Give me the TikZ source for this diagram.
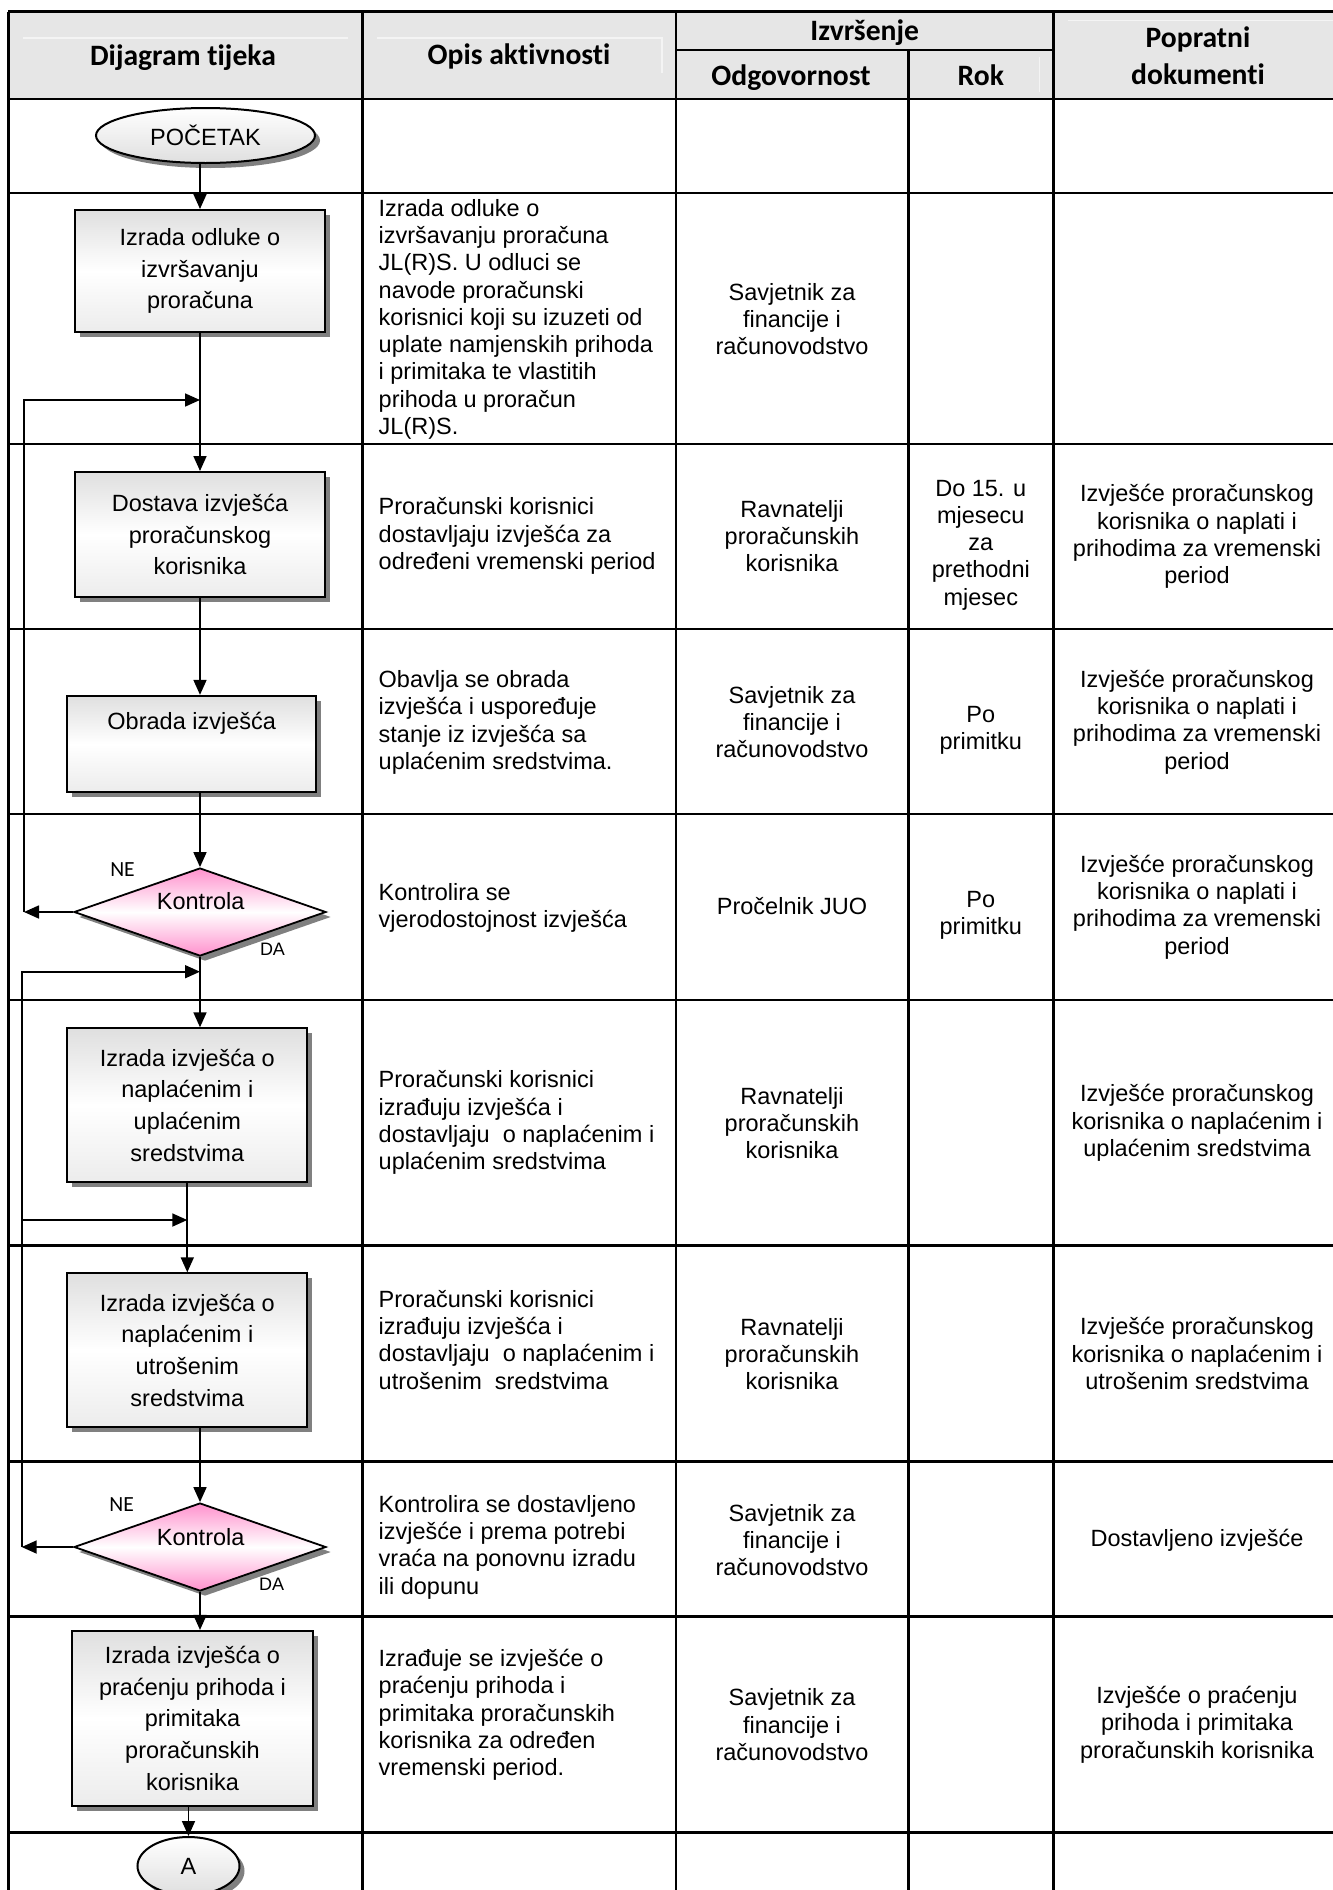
\documentclass[tikz,border=0pt]{standalone}
\usepackage{fontspec}
\setmainfont{Liberation Sans}
\newfontfamily\calfont[Ligatures={NoCommon}]{Carlito}
\usetikzlibrary{shapes.geometric,shadows,arrows.meta}
\definecolor{hdrgray}{RGB}{230,230,230}
\definecolor{hilite}{RGB}{244,244,244}
\definecolor{shadowc}{RGB}{128,128,128}
\definecolor{pinkc}{RGB}{255,145,205}
\newcommand\bodyfs{\fontsize{11.75pt}{13.65pt}\selectfont}
\newcommand\boxfs{\fontsize{11.75pt}{15.85pt}\selectfont}
\newcommand\hdrfs{\calfont\bfseries\fontsize{14.8pt}{18.35pt}\selectfont}
\newcommand\nefs{\calfont\fontsize{10.8pt}{12pt}\selectfont}
\newcommand\dafs{\fontsize{9pt}{10pt}\selectfont}
\begin{document}
\begin{tikzpicture}[x=0.5pt,y=-0.5pt,
 tline/.style={line width=1.3pt},
 conn/.style={line width=0.85pt},
 arr/.style={conn,-{Triangle[length=7.5pt,width=6.5pt]}},
 shad/.style={drop shadow={shadow xshift=2.5pt,shadow yshift=-2.5pt,fill=shadowc,opacity=1}},
 procbox/.style={rectangle,draw,line width=1pt,shad,top color=gray!25,bottom color=gray!15,middle color=white,font=\boxfs,align=center,inner sep=0pt},
 decision/.style={diamond,draw,line width=0.9pt,shad,top color=pinkc,bottom color=pinkc,middle color=white,aspect=2.86,inner sep=0pt,minimum width=126pt,minimum height=44pt},
 terminal/.style={ellipse,draw,line width=1pt,shad,top color=white,bottom color=gray!25,font=\bodyfs,inner sep=0pt},
 btext/.style={font=\boxfs,inner sep=0pt,align=center},
 hdr/.style={font=\hdrfs,inner sep=0pt,anchor=base},
 cell/.style={font=\bodyfs,inner sep=0pt,align=center},
 opis/.style={font=\bodyfs,inner sep=0pt,align=left,anchor=west},
 nelbl/.style={font=\nefs,inner sep=0pt},
 dalbl/.style={font=\dafs,inner sep=0pt},
 hl/.style={draw=hilite,line width=0.6pt},
]
\useasboundingbox (0,0) rectangle (1333,1890);

% header background
\fill[hdrgray] (8.3,11.7) rectangle (1340,99);
\draw[hl] (23,38) -- (348,38);
\draw[hl] (377,38) -- (662,38) -- (662,73);
\draw[hl] (1039.3,56.7) -- (1039.3,91.7);
\draw[hl] (1068,20.7) -- (1340,20.7);

% table lines
\foreach \yy in {11.7,99,193,444,629,814,1000,1245.7,1461.7,1616.7,1832.3}
  \draw[tline] (8.3,\yy) -- (1340,\yy);
\draw[tline] (676,50) -- (1053.3,50);
\foreach \xx in {8.3,362.7,676,1053.3}
  \draw[tline] (\xx,11.7) -- (\xx,1900);
\draw[tline] (908.3,50) -- (908.3,1900);

% header texts
\node[hdr] (h1) at (183,65) {Dijagram tijeka};
\node[hdr] (h2) at (519,64) {Opis aktivnosti};
\node[hdr] (h3) at (864.7,40.5) {Izvršenje};
\node[hdr] (h4) at (791,85) {Odgovornost};
\node[hdr] (h5) at (980.8,85) {Rok};
\node[hdr] (h6a) at (1198,47.5) {Popratni};
\node[hdr] (h6b) at (1198,84) {dokumenti};

% flow nodes
\node[terminal,minimum width=109.5pt,minimum height=27.5pt] (start) at (205.5,135.5) {POČETAK};
\node[procbox,minimum width=125pt,minimum height=61pt] (b1) at (200,271) {Izrada odluke o\\izvršavanju\\proračuna};
\node[procbox,minimum width=125pt,minimum height=62.5pt] (b2) at (200,534.5) {Dostava izvješća\\proračunskog\\korisnika};
\node[procbox,minimum width=124.35pt,minimum height=48.15pt] (b3) at (191.7,744) {};
\node[btext] (b3t) at (191.7,723) {Obrada izvješća};
\node[decision] (d1) at (200,912) {};
\node[btext] (d1t) at (200.7,901.5) {Kontrola};
\node[nelbl] (ne1) at (122.5,869.3) {NE};
\node[dalbl] (da1) at (272.5,949.2) {DA};
\node[procbox,minimum width=120pt,minimum height=76.7pt] (b4) at (187.3,1105) {Izrada izvješća o\\naplaćenim i\\uplaćenim\\sredstvima};
\node[procbox,minimum width=120pt,minimum height=76.7pt] (b5) at (187.3,1350) {Izrada izvješća o\\naplaćenim i\\utrošenim\\sredstvima};
\node[decision] (d2) at (200,1547) {};
\node[btext] (d2t) at (200.7,1537) {Kontrola};
\node[nelbl] (ne2) at (121.7,1504.2) {NE};
\node[dalbl] (da2) at (271.7,1584.5) {DA};
\node[procbox,minimum width=120.8pt,minimum height=87.35pt] (b6) at (192.5,1718.3) {Izrada izvješća o\\praćenju prihoda i\\primitaka\\proračunskih\\korisnika};
\node[terminal,minimum width=51pt,minimum height=29pt] (endA) at (188.5,1866) {A};

% loop coordinates
\coordinate (lp1top) at (24,400);
\coordinate (lp1) at (24,912);
\coordinate (lp2top) at (21.7,971.7);
\coordinate (lp2mid) at (21.7,1220);
\coordinate (lp2) at (21.7,1547);

% connectors
\draw[arr] (start.south -| b1.north) -- (b1.north);
\draw[arr] (b1.south) -- (b2.north);
\draw[arr] (b2.south) -- (b2.south |- b3.north);
\draw[arr] (b3.south -| d1.north) -- (d1.north);
\draw[arr] (d1.south) -- (d1.south |- b4.north);
\draw[arr] (b4.south) -- (b5.north);
\draw[arr] (b5.south -| d2.north) -- (d2.north);
\draw[arr] (d2.south) -- (d2.south |- b6.north);
\draw[arr] (endA.north |- b6.south) -- (endA.north);

\draw[arr] (d1.west) -- (d1.west -| lp1);
\draw[arr] (d1.west -| lp1) -- (lp1top) -- (lp1top -| b1.south);
\draw[arr] (d2.west) -- (d2.west -| lp2);
\draw[arr] (d2.west -| lp2) -- (lp2top) -- (lp2top -| d1.south);
\draw[arr] (lp2mid) -- (lp2mid -| b4.south);

% row 2
\node[opis] (o2) at (378.3,319.3) {Izrada odluke o\\izvršavanju proračuna\\JL(R)S. U odluci se\\navode proračunski\\korisnici koji su izuzeti od\\uplate namjenskih prihoda\\i primitaka te vlastitih\\prihoda u proračun\\JL(R)S.};
\node[cell] (r2) at (792,319) {Savjetnik za\\financije i\\računovodstvo};
% row 3
\node[opis] (o3) at (378.3,536) {Proračunski korisnici\\dostavljaju izvješća za\\određeni vremenski period};
\node[cell] (r3) at (792,536) {Ravnatelji\\proračunskih\\korisnika};
\node[cell] (k3) at (980.8,545) {Do 15. u\\mjesecu\\za\\prethodni\\mjesec};
\node[cell] (p3) at (1197,536.7) {Izvješće proračunskog\\korisnika o naplati i\\prihodima za vremenski\\period};
% row 4
\node[opis] (o4) at (378.3,722.5) {Obavlja se obrada\\izvješća i uspoređuje\\stanje iz izvješća sa\\uplaćenim sredstvima.};
\node[cell] (r4) at (792,722) {Savjetnik za\\financije i\\računovodstvo};
\node[cell] (k4) at (980.8,730) {Po\\primitku};
\node[cell] (p4) at (1197,722) {Izvješće proračunskog\\korisnika o naplati i\\prihodima za vremenski\\period};
% row 5
\node[opis] (o5) at (378.3,908) {Kontrolira se\\vjerodostojnost izvješća};
\node[cell] (r5) at (792,906) {Pročelnik JUO};
\node[cell] (k5) at (980.8,915) {Po\\primitku};
\node[cell] (p5) at (1197,907) {Izvješće proračunskog\\korisnika o naplati i\\prihodima za vremenski\\period};
% row 6
\node[opis] (o6) at (378.3,1122.6) {Proračunski korisnici\\izrađuju izvješća i\\dostavljaju\ \ o naplaćenim i\\uplaćenim sredstvima};
\node[cell] (r6) at (792,1123) {Ravnatelji\\proračunskih\\korisnika};
\node[cell] (p6) at (1197,1123) {Izvješće proračunskog\\korisnika o naplaćenim i\\uplaćenim sredstvima};
% row 7
\node[opis] (o7) at (378.3,1339.6) {Proračunski korisnici\\izrađuju izvješća i\\dostavljaju\ \ o naplaćenim i\\utrošenim\ \ sredstvima};
\node[cell] (r7) at (792,1354) {Ravnatelji\\proračunskih\\korisnika};
\node[cell] (p7) at (1197,1353.5) {Izvješće proračunskog\\korisnika o naplaćenim i\\utrošenim sredstvima};
% row 8
\node[opis] (o8) at (378.3,1547) {Kontrolira se dostavljeno\\izvješće i prema potrebi\\vraća na ponovnu izradu\\ili dopunu};
\node[cell] (r8) at (792,1540) {Savjetnik za\\financije i\\računovodstvo};
\node[cell] (p8) at (1197,1540) {Dostavljeno izvješće};
% row 9
\node[opis] (o9) at (378.3,1715) {Izrađuje se izvješće o\\praćenju prihoda i\\primitaka proračunskih\\korisnika za određen\\vremenski period.};
\node[cell] (r9) at (792,1724.6) {Savjetnik za\\financije i\\računovodstvo};
\node[cell] (p9) at (1197,1724.6) {Izvješće o praćenju\\prihoda i primitaka\\proračunskih korisnika};
\end{tikzpicture}
\end{document}
